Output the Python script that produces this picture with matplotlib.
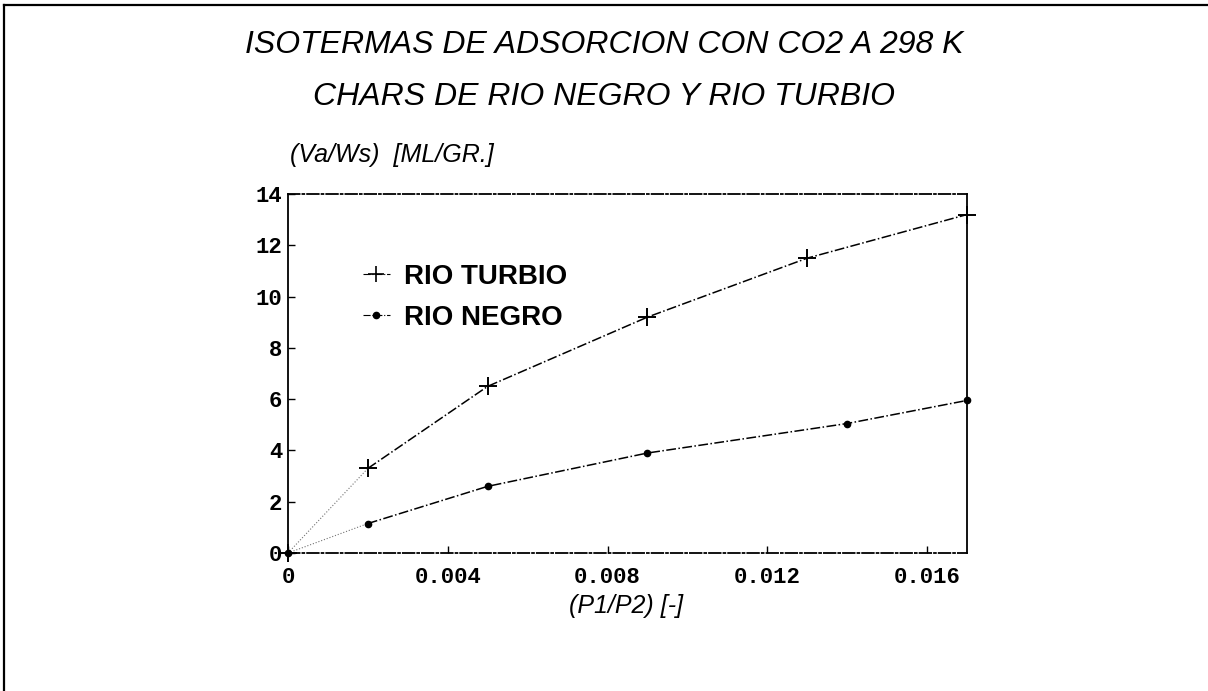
import matplotlib
matplotlib.use("Agg")
import matplotlib.pyplot as plt
from matplotlib.lines import Line2D

# datos
p_rel_turbio = [0.0, 0.002, 0.005, 0.009, 0.013, 0.017]
va_turbio = [0.0, 3.3, 6.5, 9.2, 11.5, 13.2]
p_rel_negro = [0.0, 0.002, 0.005, 0.009, 0.014, 0.017]
va_negro = [0.0, 1.15, 2.6, 3.9, 5.05, 5.95]

xticks = [0, 0.004, 0.008, 0.012, 0.016]
xtick_labels = ['0', '0.004', '0.008', '0.012', '0.016']
yticks = [0, 2, 4, 6, 8, 10, 12, 14]

fig = plt.figure(figsize=(12.08, 6.91), dpi=100)
# marco exterior (solo arriba e izquierda visibles)
fig.lines.append(Line2D([0.003, 0.003], [0.0, 0.993], transform=fig.transFigure, color='black', lw=1.6))
fig.lines.append(Line2D([0.003, 1.0], [0.993, 0.993], transform=fig.transFigure, color='black', lw=1.6))

ax = fig.add_axes([0.2384, 0.1997, 0.5621, 0.5195])
# primer tramo casi invisible en el original
ax.plot(p_rel_turbio[:2], va_turbio[:2], color='0.45', lw=0.8, ls=':')
ax.plot(p_rel_negro[:2], va_negro[:2], color='0.45', lw=0.8, ls=':')
ax.plot(p_rel_turbio[1:], va_turbio[1:], color='black', lw=1.1, ls='-.')
ax.plot(p_rel_negro[1:], va_negro[1:], color='black', lw=1.1, ls='-.')
ax.plot(p_rel_turbio, va_turbio, color='black', ls='none',
        marker='+', ms=13, mew=1.4, clip_on=False)
ax.plot(p_rel_negro, va_negro, color='black', ls='none',
        marker='o', ms=4.5, clip_on=False)

ax.set_xlim(0, 0.017)
ax.set_ylim(0, 14)
ax.set_xticks(xticks)
ax.set_xticklabels(xtick_labels)
ax.set_yticks(yticks)
for lab in ax.get_xticklabels() + ax.get_yticklabels():
    lab.set_family('Liberation Mono')
    lab.set_fontweight('bold')
    lab.set_fontsize(16)
ax.tick_params(direction='in', length=5, width=1)
ax.tick_params(axis='x', pad=10)
ax.tick_params(axis='y', pad=4)

ax.spines['top'].set_linestyle('-.')
ax.spines['bottom'].set_linestyle('-.')
for s in ax.spines.values():
    s.set_linewidth(1.3)

h = [Line2D([], [], color='black', ls='-.', lw=0.8, marker='+', ms=12, mew=1.2),
     Line2D([], [], color='black', ls='-.', lw=0.8, marker='o', ms=4.5)]
ax.legend(h, ['RIO TURBIO', 'RIO NEGRO'], loc='upper left',
          bbox_to_anchor=(0.073, 0.875), frameon=False,
          handlelength=1.0, handletextpad=0.5, labelspacing=0.55,
          prop={'family': 'Liberation Sans', 'weight': 'bold', 'size': 20})

fig.text(0.5, 0.935, 'ISOTERMAS DE ADSORCION CON CO2 A 298 K', ha='center',
         va='center', fontsize=23, style='italic', family='Liberation Sans')
fig.text(0.5, 0.86, 'CHARS DE RIO NEGRO Y RIO TURBIO', ha='center',
         va='center', fontsize=23, style='italic', family='Liberation Sans')
fig.text(0.24, 0.775, '(Va/Ws)  [ML/GR.]', ha='left', va='center',
         fontsize=18, style='italic', family='Liberation Sans')
fig.text(0.518, 0.123, '(P1/P2) [-]', ha='center', va='center',
         fontsize=18, style='italic', family='Liberation Sans')

fig.savefig('out.png', dpi=100)
